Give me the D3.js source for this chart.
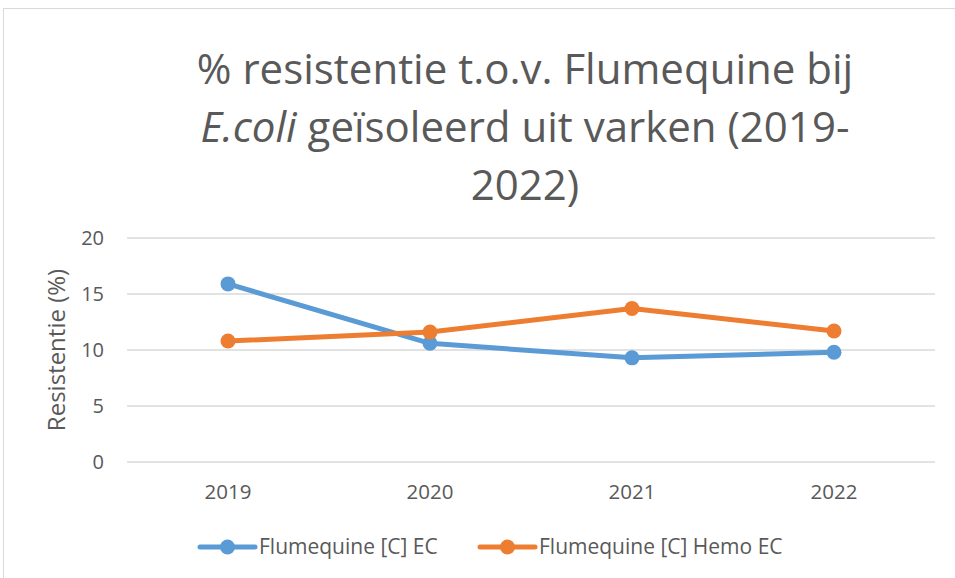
<!doctype html>
<html lang="nl">
<head>
<meta charset="utf-8">
<script src="https://d3js.org/d3.v7.min.js"></script>
<style>
  body { margin: 0; background: #fff; }
  text { font-family: "Open Sans", "Noto Sans", sans-serif; fill: #595959; }
</style>
</head>
<body>
<svg id="chart" width="955" height="578"></svg>
<script>
// data
var years = ["2019", "2020", "2021", "2022"];
var seriesNames = ["Flumequine [C] EC", "Flumequine [C] Hemo EC"];
var ecValues = [15.9, 10.6, 9.3, 9.8];
var hemoValues = [10.8, 11.6, 13.7, 11.7];
var yTicks = [0, 5, 10, 15, 20];
var colors = ["#5b9bd5", "#ed7d31"];

var svg = d3.select("#chart");

// outer chart border
svg.append("rect")
    .attr("x", 3.5).attr("y", 8.5)
    .attr("width", 960).attr("height", 580)
    .attr("fill", "none").attr("stroke", "#d9d9d9");

var margin = { left: 127, right: 20, top: 238, bottom: 116 };
var w = 955 - margin.left - margin.right,
    h = 578 - margin.top - margin.bottom;

var x = d3.scaleBand().domain(years).range([0, w]);
var y = d3.scaleLinear().domain([0, 20]).range([h, 0]);

var g = svg.append("g").attr("transform", "translate(" + margin.left + "," + margin.top + ")");

// title
var title = svg.append("text")
    .attr("text-anchor", "middle")
    .style("font-size", "42px");
title.append("tspan").attr("x", 525).attr("y", 84).text("% resistentie t.o.v. Flumequine bij");
var t2 = title.append("tspan").attr("x", 525).attr("y", 142);
t2.append("tspan").style("font-style", "italic").text("E.coli");
t2.append("tspan").text(" geïsoleerd uit varken (2019-");
title.append("tspan").attr("x", 525).attr("y", 200).text("2022)");

// gridlines
g.append("g").selectAll("line")
    .data(yTicks)
    .join("line")
    .attr("x1", 0).attr("x2", w)
    .attr("y1", d => y(d)).attr("y2", d => y(d))
    .attr("stroke", "#d9d9d9").attr("stroke-width", 1.3);

// y axis labels
var yAxis = g.append("g").call(d3.axisLeft(y).tickValues(yTicks).tickSize(0).tickPadding(23));
yAxis.select(".domain").remove();
yAxis.selectAll("text").style("font-size", "20px").attr("fill", "#595959")
    .style("font-family", "'Open Sans', sans-serif");

// x axis labels
var xAxis = g.append("g").attr("transform", "translate(0," + h + ")")
    .call(d3.axisBottom(x).tickSize(0).tickPadding(22));
xAxis.select(".domain").remove();
xAxis.selectAll("text").style("font-size", "20.5px").attr("fill", "#595959")
    .style("font-family", "'Open Sans', sans-serif");

// y axis title
svg.append("text")
    .attr("transform", "translate(65," + (margin.top + y(10)) + ") rotate(-90)")
    .attr("text-anchor", "middle")
    .style("font-size", "24px")
    .text("Resistentie (%)");

var series = [ecValues, hemoValues];
var line = d3.line()
    .x((d, i) => x(years[i]) + x.bandwidth() / 2)
    .y(d => y(d));

series.forEach(function (vals, s) {
    g.append("path")
        .datum(vals)
        .attr("d", line)
        .attr("fill", "none")
        .attr("stroke", colors[s])
        .attr("stroke-width", 5)
        .attr("stroke-linejoin", "round")
        .attr("stroke-linecap", "round");
    g.selectAll(".dot" + s)
        .data(vals)
        .join("circle")
        .attr("class", "dot" + s)
        .attr("cx", (d, i) => x(years[i]) + x.bandwidth() / 2)
        .attr("cy", d => y(d))
        .attr("r", 7.5)
        .attr("fill", colors[s]);
});

// legend
var legendX = [200, 480];
var legend = svg.append("g").selectAll("g")
    .data(seriesNames)
    .join("g")
    .attr("transform", (d, i) => "translate(" + legendX[i] + ",547)");
legend.append("line")
    .attr("x1", 0).attr("x2", 55)
    .attr("stroke", (d, i) => colors[i])
    .attr("stroke-width", 5)
    .attr("stroke-linecap", "round");
legend.append("circle")
    .attr("cx", 27.5).attr("r", 7.5)
    .attr("fill", (d, i) => colors[i]);
legend.append("text")
    .attr("x", 59).attr("dy", "0.35em")
    .style("font-size", "21px")
    .text(d => d);
</script>
</body>
</html>
